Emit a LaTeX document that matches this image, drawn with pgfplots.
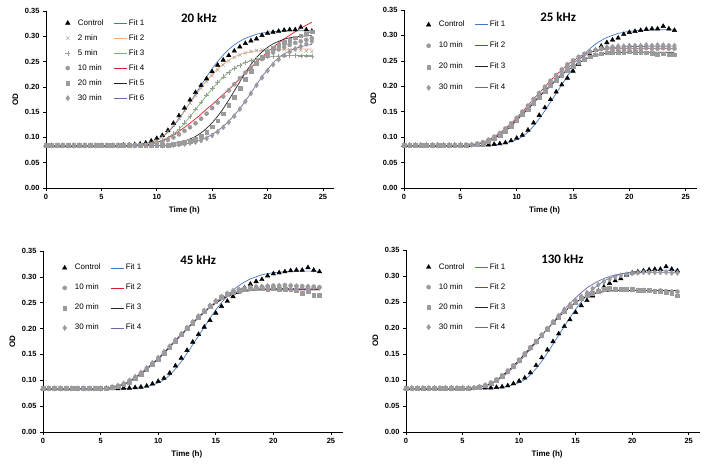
\documentclass[border=0pt]{standalone}
\usepackage{pgfplots}
\pgfplotsset{compat=1.18}
\usepackage{pgfplotstable}
\usepackage{fontspec}
\setmainfont{Liberation Sans}
\newfontfamily\titlefont{Carlito}
\definecolor{cblue}{RGB}{70,120,190}
\definecolor{corange}{RGB}{244,170,120}
\definecolor{cgreen}{RGB}{115,185,100}
\definecolor{cred}{RGB}{220,30,40}
\definecolor{cdark}{RGB}{35,35,35}
\definecolor{cpurple}{RGB}{112,100,170}
\definecolor{cgray}{RGB}{155,155,155}
\tikzset{ttl/.style={font=\titlefont\bfseries\fontsize{13}{15}\selectfont}}

\pgfplotstableread{
t y
0 0.084
0.5 0.084
1 0.084
1.5 0.084
2 0.084
2.5 0.084
3 0.084
3.5 0.084
4 0.084
4.5 0.084
5 0.084
5.5 0.084
6 0.084
6.5 0.084
7 0.085
7.5 0.085
8 0.086
8.5 0.087
9 0.089
9.5 0.093
10 0.098
10.5 0.104
11 0.114
11.5 0.128
12 0.143
12.5 0.158
13 0.174
13.5 0.189
14 0.203
14.5 0.216
15 0.230
15.5 0.243
16 0.253
16.5 0.262
17 0.271
17.5 0.279
18 0.286
18.5 0.291
19 0.295
19.5 0.302
20 0.306
20.5 0.308
21 0.310
21.5 0.312
22 0.313
22.5 0.313
23 0.318
23.5 0.313
24 0.310
}\ctrl

\pgfplotstableread{
t y
0 0.083
6 0.083
7 0.084
8 0.085
8.5 0.086
9 0.088
9.5 0.091
10 0.095
10.5 0.101
11 0.110
11.5 0.122
12 0.136
12.5 0.152
13 0.169
13.5 0.186
14 0.203
14.5 0.220
15 0.236
15.5 0.250
16 0.263
16.5 0.274
17 0.283
17.5 0.290
18 0.296
18.5 0.300
19 0.304
19.5 0.306
20 0.308
21 0.310
22 0.311
24 0.311
}\fitone

\pgfplotsset{
  dat/.style={only marks, mark size=2.1bp,
    legend image code/.code={\path (0cm,0cm) (0.45cm,0cm); \draw[##1] plot coordinates {(0.15cm,0cm)};}},
  ctl/.style={dat, black, mark=triangle*, mark size=2.6bp},
  fit/.style={no marks, line width=0.7pt, smooth,
    legend image code/.code={\draw[##1] (0cm,0cm) -- (0.46cm,0cm);}},
  panel/.style={
    scale only axis, xmin=0, xmax=26, ymin=0, ymax=0.35,
    axis x line*=bottom, axis y line*=left,
    axis line style={line width=0.8pt, black},
    xtick={0,5,10,15,20,25}, ytick={0,0.05,0.1,0.15,0.2,0.25,0.3,0.35},
    tick align=outside, major tick length=3bp, tick style={line width=0.6pt, black},
    /pgf/number format/assume math mode=true,
    tick label style={font=\bfseries\fontsize{7.5}{9}\selectfont},
    yticklabel style={/pgf/number format/.cd, fixed, fixed zerofill, precision=2},
    xlabel={Time (h)}, ylabel={OD},
    label style={font=\bfseries\fontsize{8}{9}\selectfont},
    xlabel style={at={(ticklabel cs:0.48)}},
    clip=false,
    legend cell align=left, legend columns=2,
    legend style={draw=none, fill=none, anchor=north west,
      font=\fontsize{8}{9}\selectfont,
      nodes={inner sep=1.5bp, text height=6bp, text depth=2bp},
      /tikz/column 2/.style={column sep=8.5bp}},
  },
}

\begin{document}
\begin{tikzpicture}[x=1bp,y=1bp]
\useasboundingbox (0,0) rectangle (713,467);

% ---------------- 20 kHz ----------------
\begin{axis}[panel, at={(46bp,279bp)}, anchor=south west, width=288bp, height=177bp,
  legend style={at={(0.049,0.975)}, row sep=4bp}]
\addplot[ctl] table {\ctrl}; \addlegendentry{Control}
\addplot[fit, cblue] table {\fitone}; \addlegendentry{Fit 1}
\addplot[dat, cgray, mark=x, mark size=2.4bp] coordinates {(0,0.084)(0.5,0.084)(1,0.084)(1.5,0.084)(2,0.084)(2.5,0.084)(3,0.084)(3.5,0.084)(4,0.084)(4.5,0.084)(5,0.084)(5.5,0.084)(6,0.084)(6.5,0.084)(7,0.084)(7.5,0.084)(8,0.084)(8.5,0.084)(9,0.086)(9.5,0.089)(10,0.094)(10.5,0.102)(11,0.112)(11.5,0.124)(12,0.138)(12.5,0.153)(13,0.168)(13.5,0.183)(14,0.197)(14.5,0.210)(15,0.222)(15.5,0.233)(16,0.243)(16.5,0.251)(17,0.258)(17.5,0.263)(18,0.267)(18.5,0.270)(19,0.272)(19.5,0.273)(20,0.274)(20.5,0.274)(21,0.275)(21.5,0.274)(22,0.273)(22.5,0.273)(23,0.272)(23.5,0.271)(24,0.270)}; \addlegendentry{2 min}
\addplot[fit, corange] coordinates {(0,0.083)(8,0.084)(9,0.087)(9.5,0.090)(10,0.095)(10.5,0.102)(11,0.112)(11.5,0.124)(12,0.138)(12.5,0.153)(13,0.168)(13.5,0.183)(14,0.198)(14.5,0.212)(15,0.225)(15.5,0.236)(16,0.245)(16.5,0.253)(17,0.259)(17.5,0.264)(18,0.267)(19,0.271)(20,0.273)(21,0.274)(24,0.275)}; \addlegendentry{Fit 2}
\addplot[dat, cgray, mark=+, mark size=2.4bp] coordinates {(0,0.084)(0.5,0.084)(1,0.084)(1.5,0.084)(2,0.084)(2.5,0.084)(3,0.084)(3.5,0.084)(4,0.084)(4.5,0.084)(5,0.084)(5.5,0.084)(6,0.084)(6.5,0.084)(7,0.084)(7.5,0.084)(8,0.084)(8.5,0.084)(9,0.085)(9.5,0.087)(10,0.090)(10.5,0.094)(11,0.099)(11.5,0.107)(12,0.117)(12.5,0.129)(13,0.142)(13.5,0.156)(14,0.170)(14.5,0.184)(15,0.197)(15.5,0.209)(16,0.220)(16.5,0.229)(17,0.237)(17.5,0.243)(18,0.248)(18.5,0.252)(19,0.255)(19.5,0.257)(20,0.259)(20.5,0.260)(21,0.261)(21.5,0.261)(22,0.262)(22.5,0.262)(23,0.261)(23.5,0.261)(24,0.260)}; \addlegendentry{5 min}
\addplot[fit, cgreen] coordinates {(0,0.083)(8.5,0.084)(9.5,0.087)(10,0.090)(10.5,0.094)(11,0.100)(11.5,0.107)(12,0.116)(12.5,0.128)(13,0.141)(13.5,0.155)(14,0.169)(14.5,0.183)(15,0.196)(15.5,0.208)(16,0.219)(16.5,0.229)(17,0.237)(17.5,0.243)(18,0.248)(19,0.255)(20,0.259)(21,0.261)(22,0.262)(24,0.262)}; \addlegendentry{Fit 3}
\addplot[dat, cgray, mark=*] coordinates {(0,0.084)(0.5,0.084)(1,0.084)(1.5,0.084)(2,0.084)(2.5,0.084)(3,0.084)(3.5,0.084)(4,0.084)(4.5,0.084)(5,0.084)(5.5,0.084)(6,0.084)(6.5,0.084)(7,0.084)(7.5,0.084)(8,0.084)(8.5,0.084)(9,0.085)(9.5,0.086)(10,0.088)(10.5,0.091)(11,0.095)(11.5,0.100)(12,0.106)(12.5,0.113)(13,0.120)(13.5,0.128)(14,0.137)(14.5,0.147)(15,0.158)(15.5,0.169)(16,0.181)(16.5,0.193)(17,0.205)(17.5,0.217)(18,0.228)(18.5,0.238)(19,0.247)(19.5,0.255)(20,0.262)(20.5,0.268)(21,0.274)(21.5,0.279)(22,0.283)(22.5,0.287)(23,0.290)(23.5,0.293)(24,0.296)}; \addlegendentry{10 min}
\addplot[fit, cred] coordinates {(0,0.083)(8.5,0.084)(9,0.085)(9.5,0.087)(10,0.090)(10.5,0.094)(11,0.099)(11.5,0.105)(12,0.112)(12.5,0.120)(13,0.128)(13.5,0.137)(14,0.146)(14.5,0.156)(15,0.165)(15.5,0.175)(16,0.185)(16.5,0.195)(17,0.205)(17.5,0.216)(18,0.227)(18.5,0.238)(19,0.249)(19.5,0.259)(20,0.269)(20.5,0.278)(21,0.287)(21.5,0.295)(22,0.302)(22.5,0.309)(23,0.316)(23.5,0.322)(24,0.328)}; \addlegendentry{Fit 4}
\addplot[dat, cgray, mark=square*, mark size=1.9bp] coordinates {(0,0.084)(0.5,0.084)(1,0.084)(1.5,0.084)(2,0.084)(2.5,0.084)(3,0.084)(3.5,0.084)(4,0.084)(4.5,0.084)(5,0.084)(5.5,0.084)(6,0.084)(6.5,0.084)(7,0.084)(7.5,0.084)(8,0.084)(8.5,0.084)(9,0.084)(9.5,0.084)(10,0.084)(10.5,0.084)(11,0.085)(11.5,0.086)(12,0.088)(12.5,0.090)(13,0.093)(13.5,0.097)(14,0.103)(14.5,0.111)(15,0.121)(15.5,0.133)(16,0.147)(16.5,0.163)(17,0.180)(17.5,0.198)(18,0.215)(18.5,0.231)(19,0.246)(19.5,0.258)(20,0.268)(20.5,0.276)(21,0.283)(21.5,0.288)(22,0.293)(22.5,0.297)(23,0.301)(23.5,0.305)(24,0.309)}; \addlegendentry{20 min}
\addplot[fit, cdark] coordinates {(0,0.083)(10,0.084)(11,0.086)(11.5,0.088)(12,0.090)(12.5,0.093)(13,0.097)(13.5,0.102)(14,0.109)(14.5,0.118)(15,0.129)(15.5,0.142)(16,0.157)(16.5,0.174)(17,0.192)(17.5,0.210)(18,0.228)(18.5,0.244)(19,0.258)(19.5,0.269)(20,0.278)(20.5,0.285)(21,0.290)(21.5,0.294)(22,0.297)(23,0.300)(24,0.301)}; \addlegendentry{Fit 5}
\addplot[dat, cgray, mark=diamond*, mark size=2.6bp] coordinates {(0,0.084)(0.5,0.084)(1,0.084)(1.5,0.084)(2,0.084)(2.5,0.084)(3,0.084)(3.5,0.084)(4,0.084)(4.5,0.084)(5,0.084)(5.5,0.084)(6,0.084)(6.5,0.084)(7,0.084)(7.5,0.084)(8,0.084)(8.5,0.084)(9,0.084)(9.5,0.084)(10,0.084)(10.5,0.084)(11,0.084)(11.5,0.085)(12,0.086)(12.5,0.087)(13,0.089)(13.5,0.091)(14,0.094)(14.5,0.098)(15,0.104)(15.5,0.111)(16,0.120)(16.5,0.130)(17,0.142)(17.5,0.156)(18,0.171)(18.5,0.187)(19,0.203)(19.5,0.218)(20,0.232)(20.5,0.244)(21,0.254)(21.5,0.262)(22,0.269)(22.5,0.275)(23,0.280)(23.5,0.285)(24,0.290)}; \addlegendentry{30 min}
\addplot[fit, cpurple] coordinates {(0,0.083)(11,0.084)(12,0.086)(13,0.089)(13.5,0.092)(14,0.095)(14.5,0.100)(15,0.106)(15.5,0.113)(16,0.122)(16.5,0.132)(17,0.144)(17.5,0.157)(18,0.172)(18.5,0.188)(19,0.204)(19.5,0.220)(20,0.234)(20.5,0.247)(21,0.257)(21.5,0.265)(22,0.271)(22.5,0.276)(23,0.279)(23.5,0.282)(24,0.284)}; \addlegendentry{Fit 6}
\node[ttl] at (rel axis cs:0.531,0.96) {20 kHz};
\end{axis}

% ---------------- 25 kHz ----------------
\begin{axis}[panel, at={(404bp,279bp)}, anchor=south west, width=293bp, height=178bp,
  legend style={at={(0.058,0.96)}, row sep=10bp}]
\addplot[ctl] table {\ctrl}; \addlegendentry{Control}
\addplot[fit, cblue] table {\fitone}; \addlegendentry{Fit 1}
\addplot[dat, cgray, mark=*] coordinates {(0,0.084)(0.5,0.084)(1,0.084)(1.5,0.084)(2,0.084)(2.5,0.084)(3,0.084)(3.5,0.084)(4,0.084)(4.5,0.084)(5,0.084)(5.5,0.084)(6,0.085)(6.5,0.087)(7,0.090)(7.5,0.095)(8,0.101)(8.5,0.108)(9,0.117)(9.5,0.127)(10,0.138)(10.5,0.150)(11,0.162)(11.5,0.175)(12,0.187)(12.5,0.199)(13,0.211)(13.5,0.222)(14,0.233)(14.5,0.243)(15,0.251)(15.5,0.258)(16,0.264)(16.5,0.268)(17,0.271)(17.5,0.273)(18,0.274)(18.5,0.274)(19,0.275)(19.5,0.274)(20,0.275)(20.5,0.274)(21,0.274)(21.5,0.275)(22,0.274)(22.5,0.274)(23,0.275)(23.5,0.274)(24,0.274)}; \addlegendentry{10 min}
\addplot[fit, cred] coordinates {(0,0.083)(5,0.083)(6,0.085)(6.5,0.087)(7,0.090)(7.5,0.095)(8,0.101)(8.5,0.108)(9,0.117)(9.5,0.127)(10,0.138)(10.5,0.150)(11,0.162)(11.5,0.175)(12,0.187)(12.5,0.199)(13,0.211)(13.5,0.222)(14,0.232)(14.5,0.242)(15,0.250)(15.5,0.257)(16,0.263)(16.5,0.267)(17,0.270)(17.5,0.272)(18,0.273)(19,0.274)(24,0.274)}; \addlegendentry{Fit 2}
\addplot[dat, cgray, mark=square*, mark size=1.9bp] coordinates {(0,0.084)(0.5,0.084)(1,0.084)(1.5,0.084)(2,0.084)(2.5,0.084)(3,0.084)(3.5,0.084)(4,0.084)(4.5,0.084)(5,0.084)(5.5,0.084)(6,0.085)(6.5,0.086)(7,0.088)(7.5,0.092)(8,0.097)(8.5,0.104)(9,0.112)(9.5,0.122)(10,0.133)(10.5,0.144)(11,0.155)(11.5,0.167)(12,0.179)(12.5,0.190)(13,0.201)(13.5,0.212)(14,0.222)(14.5,0.232)(15,0.240)(15.5,0.247)(16,0.253)(16.5,0.258)(17,0.262)(17.5,0.264)(18,0.266)(18.5,0.267)(19,0.267)(19.5,0.267)(20,0.268)(20.5,0.267)(21,0.267)(21.5,0.266)(22,0.265)(22.5,0.263)(23,0.264)(23.5,0.262)(24,0.262)}; \addlegendentry{20 min}
\addplot[fit, cdark] coordinates {(0,0.083)(5,0.083)(6,0.085)(7,0.088)(7.5,0.092)(8,0.097)(8.5,0.104)(9,0.112)(9.5,0.122)(10,0.133)(10.5,0.144)(11,0.155)(11.5,0.167)(12,0.179)(12.5,0.190)(13,0.201)(13.5,0.212)(14,0.222)(14.5,0.231)(15,0.239)(15.5,0.246)(16,0.252)(16.5,0.257)(17,0.260)(17.5,0.263)(18,0.265)(19,0.266)(20,0.267)(24,0.267)}; \addlegendentry{Fit 3}
\addplot[dat, cgray, mark=diamond*, mark size=2.6bp] coordinates {(0,0.084)(0.5,0.084)(1,0.084)(1.5,0.084)(2,0.084)(2.5,0.084)(3,0.084)(3.5,0.084)(4,0.084)(4.5,0.084)(5,0.084)(5.5,0.084)(6,0.085)(6.5,0.087)(7,0.089)(7.5,0.093)(8,0.099)(8.5,0.106)(9,0.115)(9.5,0.125)(10,0.136)(10.5,0.147)(11,0.158)(11.5,0.170)(12,0.181)(12.5,0.192)(13,0.203)(13.5,0.214)(14,0.225)(14.5,0.236)(15,0.246)(15.5,0.255)(16,0.262)(16.5,0.268)(17,0.272)(17.5,0.275)(18,0.277)(18.5,0.278)(19,0.279)(19.5,0.279)(20,0.280)(20.5,0.280)(21,0.280)(21.5,0.281)(22,0.280)(22.5,0.281)(23,0.281)(23.5,0.280)(24,0.280)}; \addlegendentry{30 min}
\addplot[fit, cpurple] coordinates {(0,0.083)(5,0.083)(6,0.085)(7,0.089)(7.5,0.093)(8,0.099)(8.5,0.106)(9,0.115)(9.5,0.125)(10,0.136)(10.5,0.147)(11,0.158)(11.5,0.170)(12,0.181)(12.5,0.192)(13,0.203)(13.5,0.214)(14,0.225)(14.5,0.235)(15,0.245)(15.5,0.253)(16,0.260)(16.5,0.266)(17,0.270)(17.5,0.273)(18,0.275)(19,0.277)(20,0.278)(24,0.279)}; \addlegendentry{Fit 4}
\node[ttl] at (rel axis cs:0.526,0.962) {25 kHz};
\end{axis}

% ---------------- 45 kHz ----------------
\begin{axis}[panel, at={(43bp,35bp)}, anchor=south west, width=299.5bp, height=181bp,
  legend style={at={(0.047,0.949)}, row sep=9bp}]
\addplot[ctl] table {\ctrl}; \addlegendentry{Control}
\addplot[fit, cblue] table {\fitone}; \addlegendentry{Fit 1}
\addplot[dat, cgray, mark=*] coordinates {(0,0.084)(0.5,0.084)(1,0.084)(1.5,0.084)(2,0.084)(2.5,0.084)(3,0.084)(3.5,0.084)(4,0.084)(4.5,0.084)(5,0.084)(5.5,0.085)(6,0.086)(6.5,0.089)(7,0.093)(7.5,0.098)(8,0.105)(8.5,0.113)(9,0.122)(9.5,0.132)(10,0.142)(10.5,0.153)(11,0.165)(11.5,0.177)(12,0.188)(12.5,0.200)(13,0.212)(13.5,0.223)(14,0.234)(14.5,0.244)(15,0.253)(15.5,0.261)(16,0.267)(16.5,0.272)(17,0.275)(17.5,0.277)(18,0.279)(18.5,0.280)(19,0.281)(19.5,0.282)(20,0.283)(20.5,0.282)(21,0.284)(21.5,0.283)(22,0.282)(22.5,0.282)(23,0.281)(23.5,0.281)(24,0.280)}; \addlegendentry{10 min}
\addplot[fit, cred] coordinates {(0,0.083)(5,0.084)(6,0.086)(6.5,0.089)(7,0.093)(7.5,0.098)(8,0.105)(8.5,0.113)(9,0.122)(9.5,0.132)(10,0.142)(10.5,0.153)(11,0.165)(11.5,0.177)(12,0.188)(12.5,0.200)(13,0.211)(13.5,0.222)(14,0.232)(14.5,0.242)(15,0.250)(15.5,0.257)(16,0.263)(16.5,0.267)(17,0.270)(17.5,0.272)(18,0.274)(19,0.275)(24,0.275)}; \addlegendentry{Fit 2}
\addplot[dat, cgray, mark=square*, mark size=1.9bp] coordinates {(0,0.084)(0.5,0.084)(1,0.084)(1.5,0.084)(2,0.084)(2.5,0.084)(3,0.084)(3.5,0.084)(4,0.084)(4.5,0.084)(5,0.084)(5.5,0.085)(6,0.086)(6.5,0.088)(7,0.092)(7.5,0.097)(8,0.104)(8.5,0.112)(9,0.121)(9.5,0.131)(10,0.141)(10.5,0.152)(11,0.164)(11.5,0.176)(12,0.188)(12.5,0.200)(13,0.211)(13.5,0.222)(14,0.233)(14.5,0.243)(15,0.252)(15.5,0.260)(16,0.266)(16.5,0.271)(17,0.274)(17.5,0.276)(18,0.277)(18.5,0.277)(19,0.277)(19.5,0.276)(20,0.277)(20.5,0.276)(21,0.276)(21.5,0.275)(22,0.274)(22.5,0.268)(23,0.272)(23.5,0.265)(24,0.264)}; \addlegendentry{20 min}
\addplot[fit, cdark] coordinates {(0,0.083)(5,0.084)(6,0.086)(6.5,0.088)(7,0.092)(7.5,0.097)(8,0.104)(8.5,0.112)(9,0.121)(9.5,0.131)(10,0.141)(10.5,0.152)(11,0.164)(11.5,0.176)(12,0.187)(12.5,0.199)(13,0.210)(13.5,0.221)(14,0.231)(14.5,0.241)(15,0.249)(15.5,0.256)(16,0.262)(16.5,0.266)(17,0.269)(17.5,0.272)(18,0.273)(19,0.275)(24,0.275)}; \addlegendentry{Fit 3}
\addplot[dat, cgray, mark=diamond*, mark size=2.6bp] coordinates {(0,0.084)(0.5,0.084)(1,0.084)(1.5,0.084)(2,0.084)(2.5,0.084)(3,0.084)(3.5,0.084)(4,0.084)(4.5,0.084)(5,0.084)(5.5,0.085)(6,0.087)(6.5,0.090)(7,0.094)(7.5,0.100)(8,0.107)(8.5,0.115)(9,0.124)(9.5,0.134)(10,0.144)(10.5,0.155)(11,0.166)(11.5,0.178)(12,0.190)(12.5,0.202)(13,0.213)(13.5,0.224)(14,0.235)(14.5,0.245)(15,0.254)(15.5,0.262)(16,0.268)(16.5,0.273)(17,0.276)(17.5,0.278)(18,0.280)(18.5,0.281)(19,0.281)(19.5,0.282)(20,0.282)(20.5,0.283)(21,0.282)(21.5,0.283)(22,0.282)(22.5,0.281)(23,0.281)(23.5,0.280)(24,0.279)}; \addlegendentry{30 min}
\addplot[fit, cpurple] coordinates {(0,0.083)(5,0.084)(6,0.086)(6.5,0.089)(7,0.093)(7.5,0.099)(8,0.106)(8.5,0.114)(9,0.123)(9.5,0.133)(10,0.143)(10.5,0.154)(11,0.166)(11.5,0.178)(12,0.189)(12.5,0.201)(13,0.212)(13.5,0.223)(14,0.233)(14.5,0.243)(15,0.252)(15.5,0.259)(16,0.265)(16.5,0.269)(17,0.272)(17.5,0.274)(18,0.276)(19,0.277)(24,0.278)}; \addlegendentry{Fit 4}
\node[ttl] at (rel axis cs:0.518,0.95) {45 kHz};
\end{axis}

% ---------------- 130 kHz ----------------
\begin{axis}[panel, at={(406bp,35bp)}, anchor=south west, width=294bp, height=182bp,
  legend style={at={(0.051,0.948)}, row sep=9bp}]
\addplot[ctl] table {\ctrl}; \addlegendentry{Control}
\addplot[fit, cblue] table {\fitone}; \addlegendentry{Fit 1}
\addplot[dat, cgray, mark=*] coordinates {(0,0.084)(0.5,0.084)(1,0.084)(1.5,0.084)(2,0.084)(2.5,0.084)(3,0.084)(3.5,0.084)(4,0.084)(4.5,0.084)(5,0.084)(5.5,0.084)(6,0.085)(6.5,0.087)(7,0.090)(7.5,0.095)(8,0.101)(8.5,0.109)(9,0.118)(9.5,0.128)(10,0.139)(10.5,0.151)(11,0.163)(11.5,0.175)(12,0.187)(12.5,0.199)(13,0.211)(13.5,0.222)(14,0.233)(14.5,0.243)(15,0.251)(15.5,0.258)(16,0.264)(16.5,0.268)(17,0.271)(17.5,0.273)(18,0.274)(18.5,0.275)(19,0.274)(19.5,0.274)(20,0.273)(20.5,0.273)(21,0.273)(21.5,0.272)(22,0.271)(22.5,0.272)(23,0.271)(23.5,0.270)(24,0.270)}; \addlegendentry{10 min}
\addplot[fit, cred] coordinates {(0,0.083)(5,0.083)(6,0.085)(7,0.089)(7.5,0.094)(8,0.100)(8.5,0.108)(9,0.117)(9.5,0.127)(10,0.138)(10.5,0.150)(11,0.162)(11.5,0.174)(12,0.186)(12.5,0.198)(13,0.210)(13.5,0.221)(14,0.231)(14.5,0.241)(15,0.249)(15.5,0.256)(16,0.261)(16.5,0.265)(17,0.268)(17.5,0.270)(18,0.271)(19,0.272)(24,0.272)}; \addlegendentry{Fit 2}
\addplot[dat, cgray, mark=square*, mark size=1.9bp] coordinates {(0,0.084)(0.5,0.084)(1,0.084)(1.5,0.084)(2,0.084)(2.5,0.084)(3,0.084)(3.5,0.084)(4,0.084)(4.5,0.084)(5,0.084)(5.5,0.084)(6,0.085)(6.5,0.086)(7,0.089)(7.5,0.094)(8,0.100)(8.5,0.108)(9,0.117)(9.5,0.127)(10,0.138)(10.5,0.150)(11,0.162)(11.5,0.174)(12,0.186)(12.5,0.198)(13,0.210)(13.5,0.221)(14,0.232)(14.5,0.242)(15,0.250)(15.5,0.257)(16,0.263)(16.5,0.267)(17,0.270)(17.5,0.274)(18,0.276)(18.5,0.275)(19,0.275)(19.5,0.274)(20,0.274)(20.5,0.273)(21,0.272)(21.5,0.272)(22,0.270)(22.5,0.270)(23,0.268)(23.5,0.266)(24,0.262)}; \addlegendentry{20 min}
\addplot[fit, cdark] coordinates {(0,0.083)(5,0.083)(6,0.085)(7,0.089)(7.5,0.094)(8,0.100)(8.5,0.108)(9,0.117)(9.5,0.127)(10,0.138)(10.5,0.150)(11,0.162)(11.5,0.174)(12,0.186)(12.5,0.198)(13,0.210)(13.5,0.221)(14,0.231)(14.5,0.241)(15,0.249)(15.5,0.256)(16,0.261)(16.5,0.265)(17,0.268)(17.5,0.270)(18,0.271)(19,0.272)(24,0.272)}; \addlegendentry{Fit 3}
\addplot[dat, cgray, mark=diamond*, mark size=2.6bp] coordinates {(0,0.084)(0.5,0.084)(1,0.084)(1.5,0.084)(2,0.084)(2.5,0.084)(3,0.084)(3.5,0.084)(4,0.084)(4.5,0.084)(5,0.084)(5.5,0.084)(6,0.085)(6.5,0.087)(7,0.090)(7.5,0.094)(8,0.100)(8.5,0.107)(9,0.116)(9.5,0.126)(10,0.137)(10.5,0.149)(11,0.161)(11.5,0.173)(12,0.186)(12.5,0.199)(13,0.212)(13.5,0.224)(14,0.236)(14.5,0.245)(15,0.253)(15.5,0.261)(16,0.268)(16.5,0.276)(17,0.283)(17.5,0.289)(18,0.294)(18.5,0.298)(19,0.301)(19.5,0.303)(20,0.305)(20.5,0.306)(21,0.307)(21.5,0.307)(22,0.307)(22.5,0.307)(23,0.307)(23.5,0.306)(24,0.306)}; \addlegendentry{30 min}
\addplot[fit, cpurple] coordinates {(0,0.083)(5,0.083)(6,0.085)(7,0.088)(7.5,0.092)(8,0.098)(8.5,0.105)(9,0.114)(9.5,0.124)(10,0.135)(10.5,0.147)(11,0.159)(11.5,0.172)(12,0.185)(12.5,0.198)(13,0.211)(13.5,0.224)(14,0.236)(14.5,0.247)(15,0.258)(15.5,0.268)(16,0.277)(16.5,0.284)(17,0.290)(17.5,0.295)(18,0.299)(18.5,0.302)(19,0.304)(20,0.306)(21,0.307)(24,0.307)}; \addlegendentry{Fit 4}
\node[ttl] at (rel axis cs:0.532,0.95) {130 kHz};
\end{axis}
\end{tikzpicture}
\end{document}
